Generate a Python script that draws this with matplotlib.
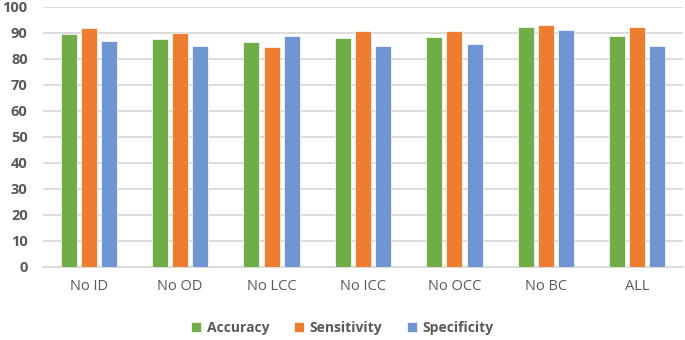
import matplotlib
matplotlib.use("Agg")
import matplotlib.pyplot as plt
import numpy as np

categories = ["No ID", "No OD", "No LCC", "No ICC", "No OCC", "No BC", "ALL"]
accuracy = [89.8, 87.7, 86.6, 88.1, 88.5, 92.3, 88.9]
sensitivity = [91.9, 90.0, 84.7, 90.8, 90.8, 93.1, 92.3]
specificity = [87.1, 85.0, 88.9, 85.0, 85.6, 91.2, 85.0]
series_names = ["Accuracy", "Sensitivity", "Specificity"]
colors = ["#70AD47", "#ED7D31", "#7095D3"]
yticks = list(range(0, 101, 10))

plt.rcParams['font.family'] = ['Open Sans', 'DejaVu Sans']

fig = plt.figure(figsize=(6.85, 3.40), dpi=100)
ax = fig.add_axes([43/685, 1 - 267/340, 640/685, 260/340])

x = np.arange(len(categories))
w = 0.175
offs = [-0.22, 0.0, 0.22]
for vals, name, c, o in zip([accuracy, sensitivity, specificity], series_names, colors, offs):
    ax.bar(x + o, vals, width=w, color=c, label=name, edgecolor='white', linewidth=0.5, zorder=3)

ax.set_xlim(-0.5, len(categories) - 0.5)
ax.set_ylim(0, 100)
ax.set_yticks(yticks)
ax.set_yticklabels([str(t) for t in yticks], fontsize=10.5, fontweight='bold', color='#595959')
ax.set_xticks(x)
ax.set_xticklabels(categories, fontsize=10.5, color='#595959')
ax.tick_params(axis='both', length=0)
ax.tick_params(axis='y', pad=11)
ax.tick_params(axis='x', pad=9)
ax.grid(axis='y', color='#D9D9D9', linewidth=1.3, zorder=0)
for s in ['top', 'right', 'left']:
    ax.spines[s].set_visible(False)
ax.spines['bottom'].set_color('#D9D9D9')
ax.spines['bottom'].set_linewidth(1.3)

leg = fig.legend(loc='center', bbox_to_anchor=(0.5, 1 - 328/340), ncol=3, frameon=False,
                 prop={'size': 10, 'weight': 'bold'}, handlelength=0.7, handleheight=0.7,
                 columnspacing=1.8, handletextpad=0.4)
for t in leg.get_texts():
    t.set_color('#595959')

fig.savefig("out.png", dpi=100)
